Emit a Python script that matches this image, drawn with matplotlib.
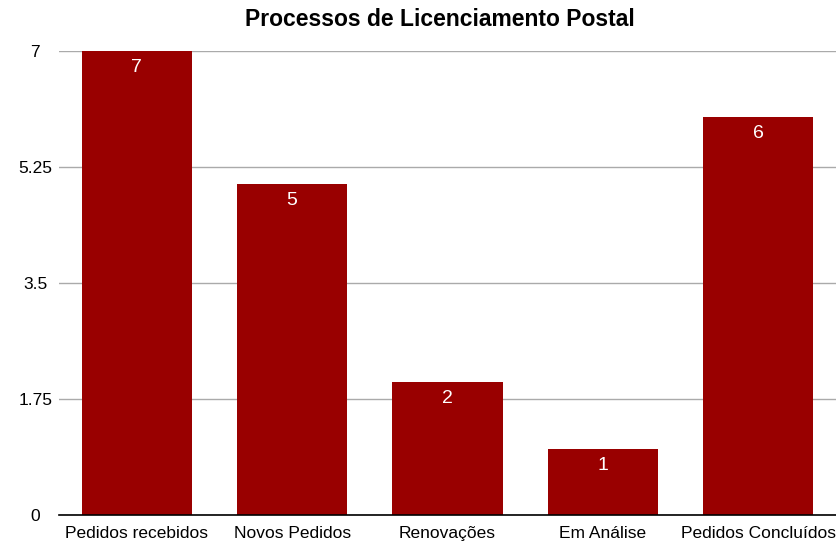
import numpy as np
import matplotlib
matplotlib.use('Agg')
import matplotlib.pyplot as plt

plt.rcParams['font.family'] = ['Liberation Sans', 'DejaVu Sans']

categories = ['Pedidos recebidos', 'Novos Pedidos', 'Renovações', 'Em Análise', 'Pedidos Concluídos']
values = [7, 5, 2, 1, 6]
yticks = [0, 1.75, 3.5, 5.25, 7]
ytick_labels = ['0', '1.75', '3.5', '5.25', '7']

fig = plt.figure(figsize=(8.36, 5.46), dpi=100)
ax = fig.add_axes([59 / 836, 31 / 546, 777 / 836, 464 / 546])

x = np.arange(len(categories))
bars = ax.bar(x, values, width=0.71, color='#990000', zorder=3)

for b, v in zip(bars, values):
    ax.text(b.get_x() + b.get_width() / 2, v - 0.12, str(v), ha='center', va='top',
            color='white', fontsize=14, fontweight='medium', zorder=4)

ax.set_xlim(-0.5, len(categories) - 0.5)
ax.set_ylim(0, 7)
ax.set_yticks(yticks)
ax.set_yticklabels(ytick_labels, ha='center')
ax.set_xticks(x)
ax.set_xticklabels(categories)
ax.tick_params(axis='y', length=0, pad=17, labelsize=12.5)
ax.tick_params(axis='x', length=0, pad=8, labelsize=12.5)
ax.grid(axis='y', color='#aaaaaa', linewidth=1, zorder=0)
for s in ['top', 'right', 'left']:
    ax.spines[s].set_visible(False)
ax.spines['bottom'].set_color('black')
ax.spines['bottom'].set_linewidth(1.2)
ax.spines['bottom'].set_zorder(5)

fig.text(440 / 836, 1 - 19 / 546, 'Processos de Licenciamento Postal', ha='center', va='center',
         fontsize=16.5, fontweight='bold')

fig.savefig('out.png', dpi=100)
